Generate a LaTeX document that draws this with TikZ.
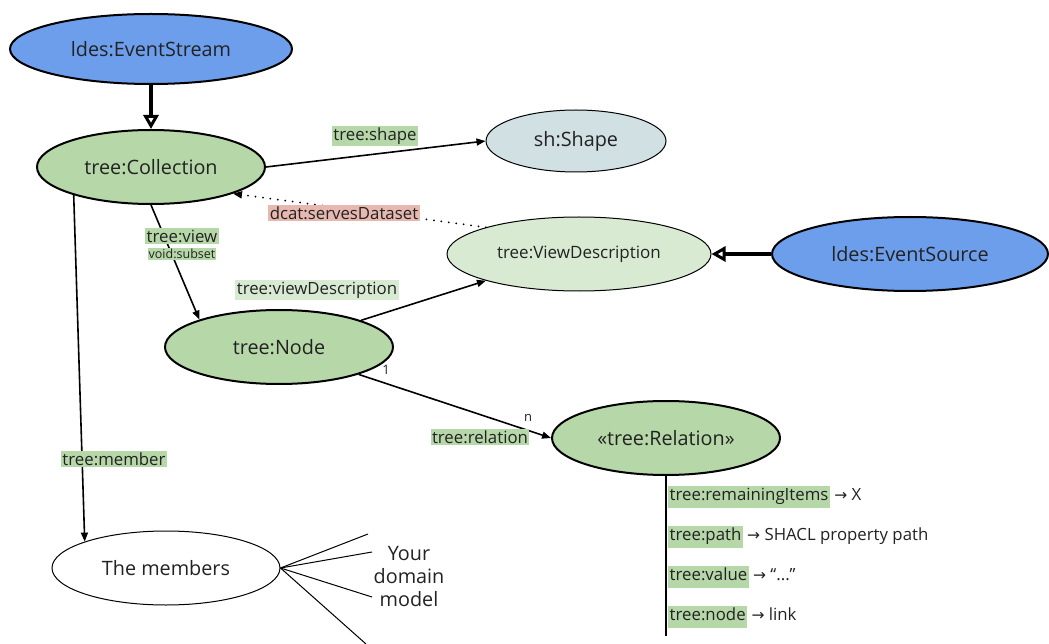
\documentclass[tikz,border=0pt]{standalone}
\usepackage{fontspec}
\setmainfont{Open Sans}
\newfontfamily\symfont{DejaVu Sans}
\usetikzlibrary{shapes.geometric,arrows.meta}
\definecolor{cblue}{HTML}{6D9EEB}
\definecolor{cgreen}{HTML}{B6D7A8}
\definecolor{clgreen}{HTML}{D9EAD3}
\definecolor{cgrey}{HTML}{D0E0E3}
\definecolor{cpink}{HTML}{E6B8AF}
\definecolor{ctext}{HTML}{222222}
\newcommand{\rarr}{{\symfont\fontsize{15.5}{17}\selectfont →}}
\newcommand{\gbox}[1]{{\setlength{\fboxsep}{1.5pt}\colorbox{cgreen}{\strut #1}}}
\tikzset{
  ell/.style={ellipse, draw=black, inner sep=0pt, text=ctext, font=\fontsize{19.8}{22}\selectfont},
  thickell/.style={ell, line width=2pt},
  thinell/.style={ell, line width=1pt},
  lab/.style={inner sep=1.5pt, text=ctext, font=\fontsize{16.8}{19}\selectfont, fill=cgreen},
  conn/.style={line width=1.6pt, -{Triangle[length=9pt,width=7pt]}},
  inh/.style={line width=3.5pt, -{Triangle[open, length=14pt, width=15pt, line width=3pt]}},
  item/.style={anchor=west, inner sep=0pt, text=ctext, font=\fontsize{16.8}{19}\selectfont},
}
\begin{document}
\begin{tikzpicture}[x=1pt,y=-1pt]
\useasboundingbox (0,0) rectangle (1049,644);
% nodes
\node[thickell, fill=cblue, minimum width=282pt, minimum height=70pt] (stream) at (151,49) {ldes:EventStream};
\node[thickell, fill=cgreen, minimum width=228pt, minimum height=74pt] (coll) at (151,167) {tree:Collection};
\node[thinell, fill=cgrey, minimum width=180pt, minimum height=62pt] (shape) at (576,141) {sh:Shape};
\node[thinell, fill=clgreen, minimum width=264pt, minimum height=74pt, font=\fontsize{17}{19}\selectfont] (vd) at (579,254) {tree:ViewDescription};
\node[thickell, fill=cblue, minimum width=276pt, minimum height=74pt] (source) at (910,254) {ldes:EventSource};
\node[thickell, fill=cgreen, minimum width=228pt, minimum height=74pt] (tnode) at (279,347) {tree:Node};
\node[thickell, fill=cgreen, minimum width=228pt, minimum height=74pt] (rel) at (666,438) {«tree:Relation»};
\node[thinell, fill=white, minimum width=228pt, minimum height=74pt] (members) at (166,568) {The members};
\node[align=center, inner sep=0pt, text=ctext, font=\fontsize{19.8}{23}\selectfont] (domain) at (409,577) {Your\\domain\\model};

% connectors
\draw[inh] (stream.south) -- (coll.north);
\draw[inh] (source.west) -- (vd.east);
\draw[conn] (coll.east) -- (shape.west);
\draw[line width=2pt, line cap=round, dash pattern=on 0pt off 7.5pt, -{Triangle[length=9pt,width=7pt]}] (vd.164) -- (coll.-18);
\draw[conn] (coll.south) -- (tnode.161);
\draw[conn] (tnode.18) -- (vd.196);
\draw[conn] (tnode.-19) -- (rel.west);
\draw[conn] (coll.-160) -- (members.162);

% edge labels
\node[lab] (lshape) at (375,136) {tree:shape};
\node[lab, fill=cpink] (lserves) at (344,213) {dcat:servesDataset};
\node[lab] (lview) at (182,236) {tree:view};
\node[lab, font=\fontsize{12.5}{14}\selectfont, inner sep=1pt] (lsubset) at (182,254) {void:subset};
\node[lab, fill=clgreen] (lvd) at (317,290) {tree:viewDescription};
\node[lab] (lrel) at (480,437) {tree:relation};
\node[lab] (lmember) at (114,459) {tree:member};
\node[inner sep=0pt, text=ctext, font=\fontsize{13}{13}\selectfont] (one) at (386,370) {1};
\node[inner sep=0pt, text=ctext, font=\fontsize{13}{13}\selectfont] (many) at (528,418) {n};

% relation properties
\coordinate (relend) at (666,636);
\draw[line width=2pt] (rel.south) -- (relend);
\node[item] (p1) at (668,497) {\gbox{tree:remainingItems} \rarr\ X};
\node[item] (p2) at (668,537) {\gbox{tree:path} \rarr\ SHACL property path};
\node[item] (p3) at (668,577) {\gbox{tree:value} \rarr\ “...”};
\node[item] (p4) at (668,617) {\gbox{tree:node} \rarr\ link};

% domain model lines
\coordinate (d1) at (368,534);
\coordinate (d2) at (372,552);
\coordinate (d3) at (372,597);
\coordinate (d4) at (366,644);
\foreach \d in {d1,d2,d3,d4} \draw[line width=1pt] (members.east) -- (\d);
\end{tikzpicture}
\end{document}
